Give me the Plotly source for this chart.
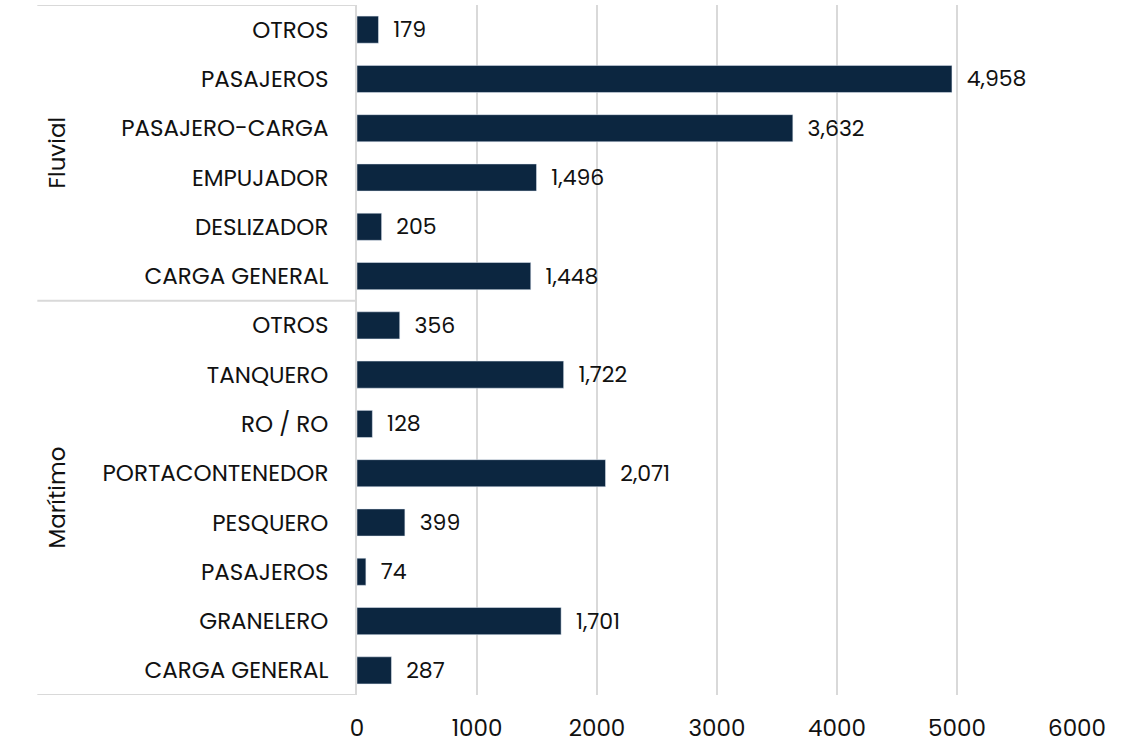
import plotly.graph_objects as go

# Data, bottom to top
groups = ["Marítimo"] * 8 + ["Fluvial"] * 6
categories = ["CARGA GENERAL", "GRANELERO", "PASAJEROS", "PESQUERO", "PORTACONTENEDOR",
              "RO / RO", "TANQUERO", "OTROS",
              "CARGA GENERAL", "DESLIZADOR", "EMPUJADOR", "PASAJERO-CARGA", "PASAJEROS", "OTROS"]
values = [287, 1701, 74, 399, 2071, 128, 1722, 356,
          1448, 205, 1496, 3632, 4958, 179]
x_ticks = [0, 1000, 2000, 3000, 4000, 5000, 6000]

keys = [f"{g}|{c}" for g, c in zip(groups, categories)]

FONT = "Poppins, Inter, Open Sans, sans-serif"
BAR = "#0c2640"
GRID = "#d9d9d9"
TXT = "#111111"
FS = 23

fig = go.Figure(go.Bar(
    x=values, y=keys, orientation="h",
    marker_color=BAR, width=0.55,
    text=values, texttemplate="\u00a0\u00a0%{x:,}", textposition="outside",
    textfont=dict(family=FONT, size=22, color=TXT),
    constraintext="none",
    cliponaxis=False,
))

# group separators and labels
n_m = groups.count("Marítimo")
n = len(keys)
for yv in [-0.5, n_m - 0.5, n - 0.5]:
    fig.add_shape(type="line", xref="paper", yref="y", x0=-0.444, x1=0,
                  y0=yv, y1=yv, line=dict(color=GRID, width=2))
for g, center in [("Marítimo", (n_m - 1) / 2), ("Fluvial", n_m + (n - n_m - 1) / 2)]:
    fig.add_annotation(text=g, xref="paper", yref="y", x=-0.417, y=center,
                       xanchor="center", yanchor="middle",
                       textangle=-90, showarrow=False,
                       font=dict(family=FONT, size=FS, color=TXT))

fig.update_layout(
    width=1146, height=744,
    margin=dict(l=357, r=69, t=5, b=49),
    plot_bgcolor="white", paper_bgcolor="white",
    showlegend=False,
    font=dict(family=FONT, size=FS, color=TXT),
    xaxis=dict(range=[0, 6000], tickvals=x_ticks, ticktext=[str(t) for t in x_ticks],
               showgrid=True, gridcolor=GRID, gridwidth=1.5, zeroline=False,
               showline=False, ticks="", ticklabelstandoff=17, automargin=False,
               tickfont=dict(family=FONT, size=FS, color=TXT)),
    yaxis=dict(tickvals=keys, ticktext=categories, range=[-0.5, n - 0.5],
               showline=True, linecolor=GRID, linewidth=2, ticks="",
               ticklabelstandoff=22, showgrid=False, automargin=False,
               tickfont=dict(family=FONT, size=FS, color=TXT)),
)

fig.write_html("out.html", config={"displayModeBar": False},
               post_script="document.body.style.margin='0';")
